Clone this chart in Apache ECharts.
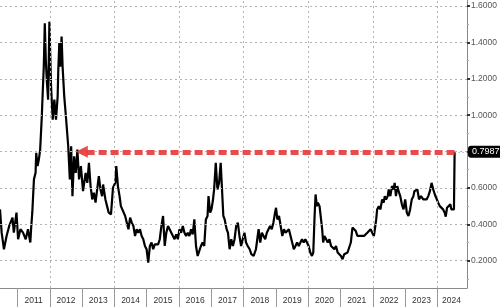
<!DOCTYPE html>
<html>
<head>
<meta charset="utf-8">
<script src="https://cdn.jsdelivr.net/npm/echarts@6/dist/echarts.min.js"></script>
<style>html,body{margin:0;padding:0;background:#fff}#c{width:500px;height:307px}</style>
</head>
<body>
<div id="c"></div>
<script>
var years = [2010.459,2010.510,2010.581,2010.663,2010.744,2010.846,2010.887,2010.969,2011.019,2011.091,2011.172,2011.254,2011.325,2011.397,2011.427,2011.458,2011.509,2011.560,2011.580,2011.621,2011.661,2011.702,2011.753,2011.784,2011.814,2011.845,2011.876,2011.906,2011.947,2011.988,2012.039,2012.090,2012.141,2012.192,2012.243,2012.263,2012.294,2012.324,2012.365,2012.396,2012.447,2012.498,2012.570,2012.620,2012.661,2012.701,2012.752,2012.803,2012.854,2012.905,2012.962,2013.028,2013.058,2013.109,2013.160,2013.211,2013.262,2013.313,2013.364,2013.415,2013.466,2013.517,2013.568,2013.619,2013.649,2013.721,2013.772,2013.823,2013.894,2013.955,2014.027,2014.057,2014.108,2014.159,2014.200,2014.261,2014.332,2014.383,2014.434,2014.485,2014.536,2014.587,2014.638,2014.689,2014.740,2014.791,2014.842,2014.893,2014.944,2014.995,2015.046,2015.097,2015.148,2015.199,2015.250,2015.301,2015.352,2015.403,2015.454,2015.505,2015.556,2015.606,2015.657,2015.708,2015.760,2015.810,2015.861,2015.912,2015.963,2016.014,2016.065,2016.116,2016.167,2016.218,2016.269,2016.320,2016.371,2016.422,2016.473,2016.524,2016.575,2016.626,2016.677,2016.728,2016.779,2016.830,2016.881,2016.911,2016.962,2017.003,2017.044,2017.085,2017.136,2017.187,2017.238,2017.288,2017.319,2017.370,2017.411,2017.472,2017.513,2017.564,2017.615,2017.666,2017.717,2017.768,2017.819,2017.869,2017.920,2017.971,2018.022,2018.073,2018.124,2018.185,2018.236,2018.308,2018.379,2018.420,2018.461,2018.512,2018.563,2018.614,2018.665,2018.716,2018.767,2018.817,2018.868,2018.919,2018.970,2019.001,2019.042,2019.093,2019.144,2019.195,2019.246,2019.297,2019.348,2019.398,2019.450,2019.500,2019.551,2019.602,2019.653,2019.704,2019.755,2019.806,2019.857,2019.908,2019.959,2020.010,2020.061,2020.112,2020.153,2020.194,2020.224,2020.265,2020.296,2020.347,2020.398,2020.428,2020.459,2020.500,2020.551,2020.602,2020.653,2020.703,2020.754,2020.805,2020.856,2020.907,2020.958,2021.009,2021.060,2021.111,2021.162,2021.213,2021.264,2021.315,2021.366,2021.417,2021.468,2021.519,2021.570,2021.621,2021.672,2021.723,2021.774,2021.825,2021.875,2021.927,2021.978,2022.028,2022.059,2022.100,2022.130,2022.181,2022.232,2022.283,2022.334,2022.365,2022.406,2022.457,2022.487,2022.538,2022.589,2022.640,2022.671,2022.712,2022.752,2022.793,2022.844,2022.895,2022.946,2022.997,2023.048,2023.099,2023.150,2023.201,2023.252,2023.282,2023.323,2023.374,2023.425,2023.486,2023.557,2023.609,2023.660,2023.711,2023.762,2023.813,2023.864,2023.915,2023.966,2024.017,2024.068,2024.119,2024.170,2024.221,2024.252,2024.292,2024.323,2024.353,2024.394,2024.425,2024.476,2024.506,2024.527];
var values = [0.482,0.354,0.263,0.336,0.391,0.437,0.354,0.464,0.318,0.373,0.354,0.318,0.373,0.300,0.391,0.464,0.647,0.683,0.793,0.720,0.756,0.811,0.994,1.140,1.267,1.505,1.304,1.195,1.085,1.514,1.158,0.975,1.085,0.975,1.103,1.249,1.396,1.267,1.432,1.267,1.103,0.994,0.829,0.647,0.829,0.555,0.774,0.683,0.811,0.647,0.720,0.582,0.592,0.683,0.628,0.738,0.610,0.537,0.574,0.519,0.592,0.665,0.592,0.555,0.619,0.537,0.500,0.464,0.455,0.601,0.628,0.720,0.610,0.555,0.500,0.491,0.446,0.409,0.373,0.437,0.409,0.391,0.336,0.373,0.354,0.373,0.336,0.318,0.281,0.263,0.190,0.281,0.300,0.263,0.290,0.281,0.290,0.318,0.391,0.446,0.281,0.354,0.391,0.382,0.354,0.336,0.318,0.345,0.318,0.373,0.354,0.391,0.354,0.336,0.354,0.336,0.373,0.345,0.427,0.281,0.226,0.226,0.281,0.300,0.281,0.427,0.446,0.555,0.464,0.482,0.528,0.592,0.738,0.592,0.628,0.738,0.628,0.446,0.427,0.373,0.354,0.263,0.318,0.281,0.318,0.391,0.409,0.336,0.281,0.318,0.354,0.300,0.281,0.263,0.236,0.226,0.263,0.318,0.373,0.300,0.354,0.336,0.318,0.354,0.373,0.391,0.373,0.409,0.464,0.491,0.427,0.446,0.391,0.336,0.373,0.354,0.354,0.373,0.336,0.300,0.263,0.281,0.300,0.281,0.300,0.318,0.300,0.318,0.300,0.281,0.245,0.226,0.245,0.446,0.564,0.500,0.519,0.500,0.500,0.373,0.300,0.336,0.318,0.300,0.318,0.281,0.281,0.263,0.281,0.245,0.236,0.226,0.208,0.236,0.236,0.245,0.254,0.300,0.382,0.373,0.363,0.336,0.345,0.336,0.345,0.336,0.345,0.354,0.345,0.373,0.354,0.336,0.373,0.427,0.482,0.500,0.482,0.537,0.519,0.555,0.537,0.555,0.592,0.555,0.610,0.592,0.628,0.555,0.610,0.582,0.555,0.510,0.482,0.537,0.464,0.446,0.482,0.537,0.555,0.582,0.574,0.592,0.537,0.555,0.537,0.546,0.537,0.555,0.582,0.628,0.592,0.564,0.555,0.519,0.500,0.510,0.482,0.464,0.442,0.491,0.482,0.500,0.510,0.482,0.473,0.482,0.7987];
var yearTicks = [2011,2012,2013,2014,2015,2016,2017,2018,2019,2020,2021,2022,2023,2024];
var yearLabelPos = [2011.5,2012.5,2013.5,2014.5,2015.5,2016.5,2017.5,2018.5,2019.5,2020.5,2021.5,2022.5,2023.5,2024.43];
var gridYears = [2012,2014,2016,2018,2020,2022,2024];
var yLabels = [0.2,0.4,0.6,0.8,1.0,1.2,1.4,1.6];
var yMinor = [0.1,0.3,0.5,0.7,0.9,1.1,1.3,1.5];
var lastValue = 0.7987;
var arrowFrom = 2024.527;
var arrowTo = 2012.99;
var xMin = 2010.459, xMax = 2024.91, yMin = 0.05, yMax = 1.633;

var data = years.map(function (y, i) { return [y, values[i]]; });
var font = 'Liberation Sans, Arial, sans-serif';
var gridLines = gridYears.map(function (y) { return { xAxis: y }; })
  .concat(yLabels.map(function (v) { return { yAxis: v }; }));

var chart = echarts.init(document.getElementById('c'), null, { renderer: 'canvas' });
chart.setOption({
  animation: false,
  backgroundColor: '#fff',
  grid: { left: 0, right: 27, top: 0, bottom: 19, containLabel: false },
  xAxis: {
    type: 'value', min: xMin, max: xMax,
    axisLine: { show: true, lineStyle: { color: '#8a8a8a', width: 1 } },
    axisTick: { show: true, customValues: yearTicks, length: 19, lineStyle: { color: '#9a9a9a' } },
    axisLabel: { show: true, customValues: yearLabelPos, margin: 8, fontSize: 8.5, color: '#333', fontFamily: font,
      formatter: function (v) { return String(Math.floor(v)); } },
    splitLine: { show: false }
  },
  yAxis: [{
    type: 'value', position: 'right', min: yMin, max: yMax,
    axisLine: { show: true, lineStyle: { color: '#8a8a8a', width: 1 } },
    axisTick: { show: true, customValues: yLabels, length: 3, lineStyle: { color: '#333', width: 2 } },
    axisLabel: { show: true, customValues: yLabels, margin: 4, fontSize: 8.5, color: '#555', fontFamily: font,
      formatter: function (v) { return v.toFixed(4); } },
    splitLine: { show: false }
  }, {
    type: 'value', position: 'right', min: yMin, max: yMax,
    axisLine: { show: false },
    axisTick: { show: true, customValues: yMinor, length: 2, lineStyle: { color: '#aaa', width: 1 } },
    axisLabel: { show: false },
    splitLine: { show: false }
  }],
  series: [{
    type: 'line', data: [], z: 1, silent: true,
    markLine: {
      silent: true, symbol: 'none', animation: false,
      label: { show: false },
      lineStyle: { color: '#b3b3b3', type: [2, 3], width: 1 },
      data: gridLines
    }
  }, {
    type: 'line', data: data, showSymbol: false, symbol: 'none', z: 3,
    lineStyle: { color: '#000', width: 2.2 },
    markLine: {
      silent: true, animation: false, symbol: 'none',
      data: [
        [{ coord: [arrowFrom, lastValue], symbol: 'none',
           lineStyle: { color: '#e43a3a', width: 5, type: [8, 4], opacity: 0.9 }, label: { show: false } },
         { coord: [arrowTo, lastValue], symbol: 'triangle', symbolSize: 12 }],
        [{ coord: [arrowFrom, lastValue], symbol: 'none',
           lineStyle: { color: '#999', width: 1, type: [1, 3] },
           label: { show: true, position: 'end', distance: 1, formatter: '0.7987', color: '#fff',
             backgroundColor: '#000', padding: [2, 4, 1, 4], borderRadius: 3, fontSize: 9, fontFamily: font } },
         { coord: [xMax, lastValue], symbol: 'none' }]
      ]
    }
  }]
});
</script>
</body>
</html>
